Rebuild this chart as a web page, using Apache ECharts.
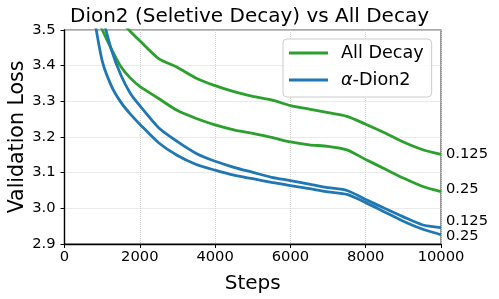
<!DOCTYPE html>
<html>
<head>
<meta charset="utf-8">
<script src="https://cdn.jsdelivr.net/npm/echarts@6/dist/echarts.min.js"></script>
<style>html,body{margin:0;padding:0;background:#fff}#c{width:499px;height:299px}</style>
</head>
<body>
<div id="c"></div>
<script>
const steps = [750, 1000, 1250, 1500, 1750, 2000, 2500, 3000, 3500, 4000, 4500, 5000, 5500, 6000, 6500, 7000, 7500, 8000, 8500, 9000, 9500, 10000];
const allDecay125 = [3.62, 3.59, 3.56, 3.525, 3.496, 3.470, 3.420, 3.395, 3.365, 3.344, 3.327, 3.314, 3.304, 3.288, 3.278, 3.268, 3.258, 3.236, 3.212, 3.186, 3.165, 3.151];
const allDecay25 = [3.56, 3.501, 3.446, 3.397, 3.365, 3.342, 3.308, 3.274, 3.252, 3.234, 3.220, 3.210, 3.199, 3.186, 3.178, 3.174, 3.164, 3.137, 3.111, 3.085, 3.062, 3.047];
const dion125 = [3.64, 3.54, 3.443, 3.373, 3.322, 3.288, 3.226, 3.187, 3.154, 3.132, 3.115, 3.101, 3.087, 3.078, 3.068, 3.058, 3.050, 3.025, 3.000, 2.976, 2.954, 2.946];
const dion25 = [3.56, 3.414, 3.342, 3.297, 3.264, 3.236, 3.184, 3.148, 3.123, 3.107, 3.093, 3.083, 3.073, 3.064, 3.055, 3.046, 3.039, 3.016, 2.990, 2.964, 2.942, 2.926];
const seriesNames = ['All Decay', 'α-Dion2'];
const endLabels = ['0.125', '0.25', '0.125', '0.25'];
const xTicks = [0, 2000, 4000, 6000, 8000, 10000];
const yTicks = [2.9, 3.0, 3.1, 3.2, 3.3, 3.4, 3.5];

const GREEN = '#2ca02c', BLUE = '#1f77b4';
const FONT = 'DejaVu Sans';
function pairs(v) { return steps.map((s, i) => [s, v[i]]); }
function mk(name, vals, color, label, off) {
  return {
    type: 'line', name: name, data: pairs(vals), symbol: 'none', clip: true,
    smooth: 0.25,
    lineStyle: { color: color, width: 2.8 }, itemStyle: { color: color },
    endLabel: { show: true, formatter: label, distance: 5, offset: [0, off],
      color: '#000', fontFamily: FONT, fontSize: 14.7 }
  };
}
const chart = echarts.init(document.getElementById('c'), null, { renderer: 'canvas' });
chart.setOption({
  animation: false,
  backgroundColor: '#fff',
  title: { text: 'Dion2 (Seletive Decay) vs All Decay', left: 'center', top: 2,
    textStyle: { fontFamily: FONT, fontSize: 20, fontWeight: 'normal', color: '#000' } },
  grid: { left: 64.5, top: 30, width: 376.5, height: 214, show: true, borderColor: '#555', borderWidth: 1.2,
    containLabel: false, outerBoundsMode: 'none' },
  legend: {
    orient: 'vertical', left: 283, top: 39, data: seriesNames,
    icon: 'rect', itemWidth: 39, itemHeight: 3, itemGap: 7,
    padding: [4, 8, 7, 6],
    backgroundColor: 'rgba(255,255,255,0.85)', borderColor: '#cccccc', borderWidth: 1, borderRadius: 4,
    formatter: n => n === 'α-Dion2' ? '{i|α}-Dion2' : n,
    textStyle: { fontFamily: FONT, fontSize: 17.6, color: '#000', lineHeight: 20, padding: [0, 0, 0, 8],
      rich: { i: { fontFamily: FONT, fontStyle: 'italic', fontSize: 17.6, lineHeight: 20 } } }
  },
  xAxis: {
    type: 'value', min: xTicks[0], max: xTicks[xTicks.length - 1], interval: 2000,
    name: 'Steps', nameLocation: 'middle', nameGap: 30,
    nameTextStyle: { fontFamily: FONT, fontSize: 20, color: '#000' },
    axisLine: { show: true, lineStyle: { color: '#000', width: 1.3 } },
    axisTick: { show: true, length: 4, lineStyle: { color: '#000' } },
    axisLabel: { fontFamily: FONT, fontSize: 14.7, color: '#000', margin: 6, formatter: v => String(v) },
    splitLine: { show: true, lineStyle: { color: '#d4d4d4', type: 'dotted', width: 1 } }
  },
  yAxis: {
    type: 'value', min: yTicks[0], max: yTicks[yTicks.length - 1], interval: 0.1,
    name: 'Validation Loss', nameLocation: 'middle', nameGap: 36, nameMoveOverlap: false,
    nameTextStyle: { fontFamily: FONT, fontSize: 20.5, color: '#000' },
    axisLine: { show: true, lineStyle: { color: '#000', width: 1.3 } },
    axisTick: { show: true, length: 4, lineStyle: { color: '#000' } },
    axisLabel: { fontFamily: FONT, fontSize: 14.7, color: '#000', margin: 9, formatter: v => v.toFixed(1) },
    splitLine: { show: true, lineStyle: { color: '#d4d4d4', type: 'dotted', width: 1 } }
  },
  series: [
    mk(seriesNames[0], allDecay125, GREEN, endLabels[0], 0),
    mk(seriesNames[0], allDecay25, GREEN, endLabels[1], -2),
    mk(seriesNames[1], dion125, BLUE, endLabels[2], -6),
    mk(seriesNames[1], dion25, BLUE, endLabels[3], 1.5)
  ]
});
</script>
</body>
</html>
